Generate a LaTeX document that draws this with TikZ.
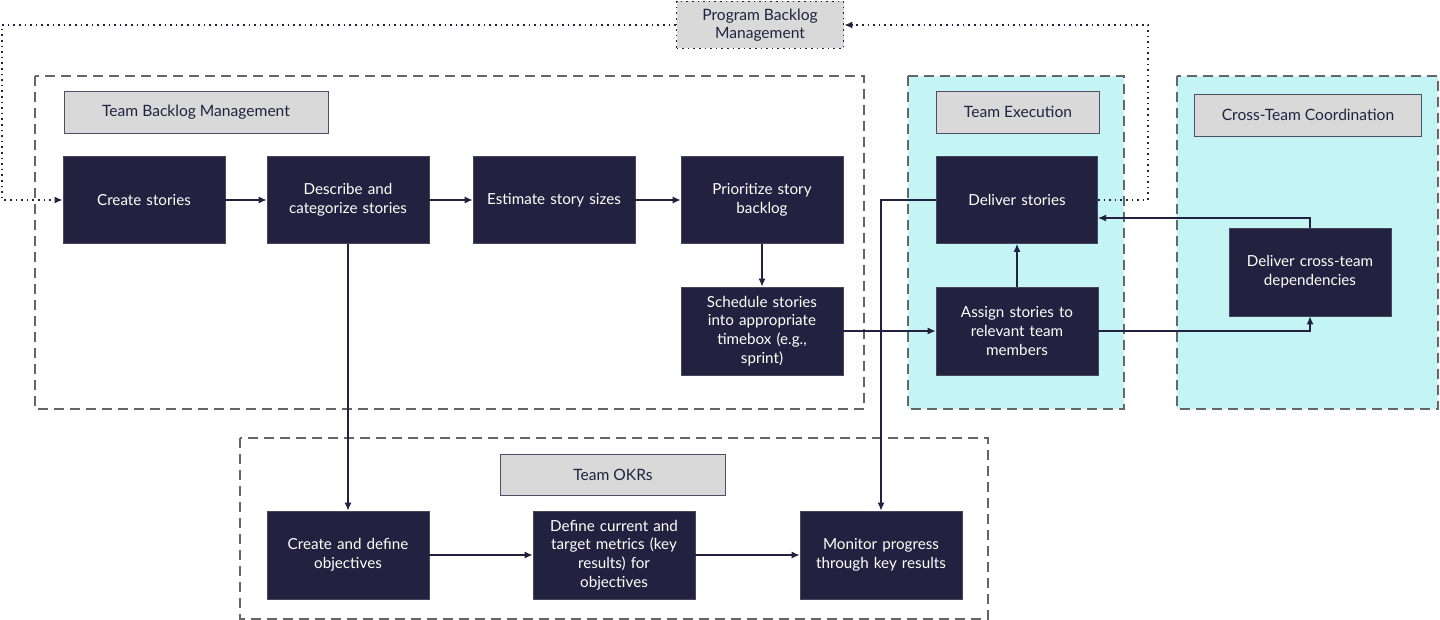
\documentclass[tikz,border=0pt]{standalone}
\usepackage{fontspec}
\setmainfont{Lato}
\usetikzlibrary{arrows.meta}
\definecolor{navy}{HTML}{222240}
\definecolor{lab}{HTML}{D9D9D9}
\definecolor{cy}{HTML}{C4F4F4}
\begin{document}
\begin{tikzpicture}[x=0.5pt,y=-0.5pt,
 box/.style={draw=navy!60!gray,fill=navy,text=white,align=center,inner sep=0pt,font=\fontsize{7.6}{9.4}\selectfont},
 lbl/.style={draw=navy!80,fill=lab,text=navy,align=center,inner sep=0pt,font=\fontsize{7.8}{9}\selectfont},
 cont/.style={draw=gray!80!black,dashed,dash pattern=on 5pt off 3pt,line width=0.6pt},
 ar/.style={draw=navy,line width=0.6pt,-{Latex[length=4pt,width=3.5pt]}},
 dar/.style={draw=navy,line width=0.8pt,dotted,-{Latex[length=4pt,width=3.5pt]}}]
\useasboundingbox (0,0) rectangle (1440,620);
\draw[cont] (35,76) rectangle (864,409);
\draw[cont,fill=cy] (908,76) rectangle (1124,409);
\draw[cont,fill=cy] (1177,76) rectangle (1438,409);
\draw[cont] (240,438) rectangle (988,619);
\newcommand{\bx}[6]{\node[#1,minimum width=#4*0.5pt,minimum height=#5*0.5pt,text width=#4*0.5pt-8pt] (#2) at (#3) {#6};}
\node[lbl,draw=navy,dotted,line width=0.8pt,minimum width=83.5pt,minimum height=23.5pt] (prog) at (760,25) {Program Backlog\\Management};
\node[lbl,minimum width=132pt,minimum height=21pt] (l1) at (196,112) {Team Backlog Management};
\node[lbl,minimum width=81.5pt,minimum height=21pt] (l2) at (1018,112) {Team Execution};
\node[lbl,minimum width=113.5pt,minimum height=21pt] (l3) at (1308,115) {Cross-Team Coordination};
\node[lbl,minimum width=112.5pt,minimum height=20.5pt] (l4) at (613,475) {Team OKRs};
\bx{box}{cs}{144,200}{162}{87}{Create stories}
\bx{box}{dc}{348,200}{162}{87}{Describe and\\categorize stories}
\bx{box}{es}{554,200}{162}{87}{Estimate story sizes}
\bx{box}{pr}{762,200}{162}{87}{Prioritize story\\backlog}
\bx{box}{sc}{762,331}{162}{88}{Schedule stories\\into appropriate\\timebox (e.g.,\\sprint)}
\bx{box}{ds}{1017,200}{161}{87}{Deliver stories}
\bx{box}{as}{1017,331}{162}{88}{Assign stories to\\relevant team\\members}
\bx{box}{ct}{1310,272}{162}{88}{Deliver cross-team\\dependencies}
\bx{box}{cd}{348,555}{162}{88}{Create and define\\objectives}
\bx{box}{dm}{614,555}{162}{88}{Define current and\\target metrics (key\\results) for\\objectives}
\bx{box}{mp}{881,555}{162}{88}{Monitor progress\\through key results}
\draw[dar] (prog.west) -- (2,25) -- (2,200) -- (cs.west);
\draw[dar] (ds.east) -- (1148,200) -- (1148,25) -- (prog.east);
\draw[ar] (cs) -- (dc); \draw[ar] (dc) -- (es); \draw[ar] (es) -- (pr);
\draw[ar] (pr) -- (sc);
\draw[ar] (sc.east) -- (as.west);
\draw[ar] (as) -- (ds);
\draw[ar] (as.east) -- (1310,331) -- (ct.south);
\draw[ar] (ct.north) -- (1310,218) -- (1098,218);
\draw[ar] (dc.south) -- (cd.north);
\draw[ar] (ds.west) -- (881,200) -- (mp.north);
\draw[ar] (cd) -- (dm); \draw[ar] (dm) -- (mp);
\end{tikzpicture}
\end{document}
